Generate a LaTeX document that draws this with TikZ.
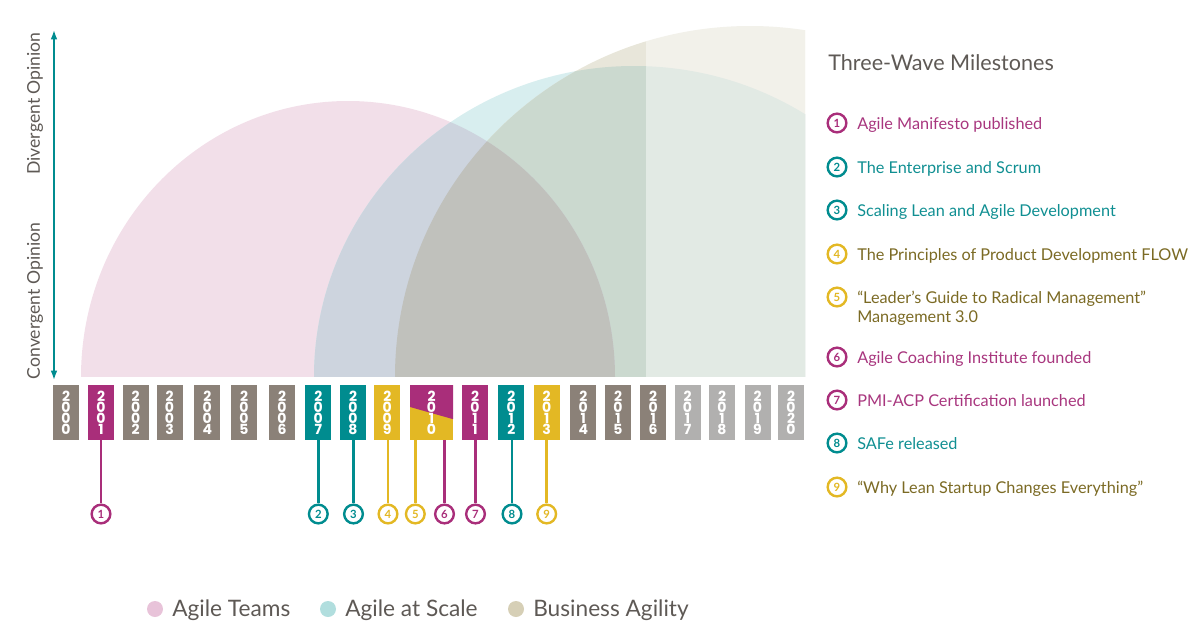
\documentclass[tikz,border=0pt]{standalone}
\usepackage{fontspec}
\setmainfont{Lato}
\newfontfamily\yearfont{Poppins}
\usetikzlibrary{arrows.meta}

% palette
\definecolor{boxgray}{HTML}{8B8178}
\definecolor{boxlight}{HTML}{B1B0AF}
\definecolor{berry}{HTML}{A92E7A}
\definecolor{sea}{HTML}{008C8F}
\definecolor{gold}{HTML}{E3B824}
\definecolor{berrytext}{HTML}{A8367E}
\definecolor{seatext}{HTML}{108F92}
\definecolor{olivetext}{HTML}{7B6A24}
\definecolor{inkgray}{HTML}{5E5955}
\definecolor{wavepink}{HTML}{F2DFE9}
\definecolor{waveteal}{HTML}{D8EEEF}
\definecolor{wavebeige}{HTML}{E8E6DA}
\definecolor{pinkteal}{HTML}{CDD4DE}
\definecolor{tealbeige}{HTML}{CBD9CF}
\definecolor{allwaves}{HTML}{C0C1BC}
\definecolor{dotpink}{HTML}{E8C3D9}
\definecolor{dotteal}{HTML}{B1DEDE}
\definecolor{dotbeige}{HTML}{D6CFB6}

\newcommand\stackyear[4]{#1\\#2\\#3\\#4}

\begin{document}
\begin{tikzpicture}[x=0.75pt,y=-0.75pt,
  yearbox/.style={rectangle, minimum width=19.5pt, minimum height=41.25pt,
    inner sep=0pt, text=white, align=center,
    font=\yearfont\bfseries\fontsize{10.5}{8.3}\selectfont},
  stem/.style={line width=2.2pt},
  evmark/.style={circle, draw, fill=white, line width=1.8pt, minimum size=14pt,
    inner sep=0pt, font=\bfseries\fontsize{8.5}{8.5}\selectfont},
  itemtext/.style={anchor=base west, inner sep=0pt, align=left,
    font=\fontsize{12.2}{14.25}\selectfont},
  legtext/.style={anchor=base west, inner sep=0pt, text=inkgray,
    font=\fontsize{17}{20}\selectfont},
  legdot/.style={circle, minimum size=12pt, inner sep=0pt},
  axislabel/.style={rotate=90, inner sep=0pt, text=inkgray,
    font=\fontsize{13.2}{15}\selectfont},
]
\useasboundingbox (0,0) rectangle (1197,643);

% the three waves
\begin{scope}
  \clip (0,0) rectangle (805,376.5);
  \fill[wavepink]  (348,377) ellipse [x radius=267, y radius=276];
  \fill[waveteal]  (634,377) ellipse [x radius=320, y radius=311];
  \fill[wavebeige] (750,377) ellipse [x radius=355, y radius=351];
  \begin{scope}
    \clip (634,377) ellipse [x radius=320, y radius=311];
    \fill[tealbeige] (750,377) ellipse [x radius=355, y radius=351];
  \end{scope}
  \begin{scope}
    \clip (348,377) ellipse [x radius=267, y radius=276];
    \fill[pinkteal] (634,377) ellipse [x radius=320, y radius=311];
    \fill[allwaves] (750,377) ellipse [x radius=355, y radius=351];
  \end{scope}
  % years still to come are faded
  \fill[white, opacity=0.45] (645.5,0) rectangle (805,377);
\end{scope}

% opinion axis
\coordinate (axtop) at (54,30);
\coordinate (axbot) at (54,380);
\draw[sea, line width=1.1pt, {Latex[length=7pt,width=5pt]}-{Latex[length=7pt,width=5pt]}]
  (axtop) -- (axbot);
\node[axislabel] (divlab) at (35,103.5) {Divergent Opinion};
\node[axislabel] (convlab) at (35,301) {Convergent Opinion};

% year boxes
\foreach \yr/\xx/\cc in {2000/66/boxgray, 2001/101/berry, 2002/135.7/boxgray,
    2003/169.5/boxgray, 2004/207.3/boxgray, 2005/244/boxgray, 2006/282/boxgray,
    2007/318.3/sea, 2008/353/sea, 2009/387.3/gold, 2011/475/berry,
    2012/511.3/sea, 2013/546.7/gold, 2014/583.3/boxgray, 2015/618/boxgray,
    2016/653.2/boxgray, 2017/687.5/boxlight, 2018/722/boxlight,
    2019/757.5/boxlight, 2020/791/boxlight}
  \node[yearbox, fill=\cc] (y\yr) at (\xx,412.5) {\expandafter\stackyear\yr};

\node[yearbox, minimum width=32.25pt, fill=gold,
  path picture={\fill[berry] (path picture bounding box.north west)
     -- (path picture bounding box.north east)
     -- ([yshift=-25.6pt]path picture bounding box.north east)
     -- ([yshift=-16.5pt]path picture bounding box.north west) -- cycle;}]
  (y2010) at (431.5,412.5) {\stackyear2010};

% milestone markers under the timeline
\foreach \n/\xx/\cc/\yr in {1/101/berry/2001, 2/318.3/sea/2007, 3/353.5/sea/2008,
    4/388/gold/2009, 5/415.3/gold/2010, 6/444.5/berry/2010, 7/475.5/berry/2011,
    8/512/sea/2012, 9/546.7/gold/2013}
{
  \node[evmark, draw=\cc, text=\cc] (e\n) at (\xx,514) {\n};
  \draw[stem, \cc] (e\n |- y\yr.south) -- (e\n.north);
}

% milestone list
\node[anchor=base west, inner sep=0pt, text=inkgray,
  font=\fontsize{16.2}{18}\selectfont] (ttl) at (828,70) {Three-Wave Milestones};

\foreach \n/\yy/\cc in {1/123/berry, 2/167/sea, 3/210/sea, 4/254/gold, 5/297/gold,
    6/357/berry, 7/400/berry, 8/443/sea, 9/487/gold}
  \node[evmark, draw=\cc, text=\cc] (m\n) at (837,\yy) {\n};

\node[itemtext, text=berrytext] (t1) at (857,129) {Agile Manifesto published};
\node[itemtext, text=seatext] (t2) at (857,173) {The Enterprise and Scrum};
\node[itemtext, text=seatext] (t3) at (857,216) {Scaling Lean and Agile Development};
\node[itemtext, text=olivetext] (t4) at (857,260) {The Principles of Product Development FLOW};
\node[itemtext, text=olivetext] (t5) at (857,322) {“Leader’s Guide to Radical Management”\\Management 3.0};
\node[itemtext, text=berrytext] (t6) at (857,363) {Agile Coaching Institute founded};
\node[itemtext, text=berrytext] (t7) at (857,406) {PMI-ACP Certification launched};
\node[itemtext, text=seatext] (t8) at (857,449) {SAFe released};
\node[itemtext, text=olivetext] (t9) at (857,493) {“Why Lean Startup Changes Everything”};

% legend
\node[legdot, fill=dotpink]  (d1) at (155,609) {};
\node[legdot, fill=dotteal]  (d2) at (328,609) {};
\node[legdot, fill=dotbeige] (d3) at (516,609) {};
\node[legtext] (l1) at (172,616) {Agile Teams};
\node[legtext] (l2) at (345,616) {Agile at Scale};
\node[legtext] (l3) at (533,616) {Business Agility};
\end{tikzpicture}
\end{document}
